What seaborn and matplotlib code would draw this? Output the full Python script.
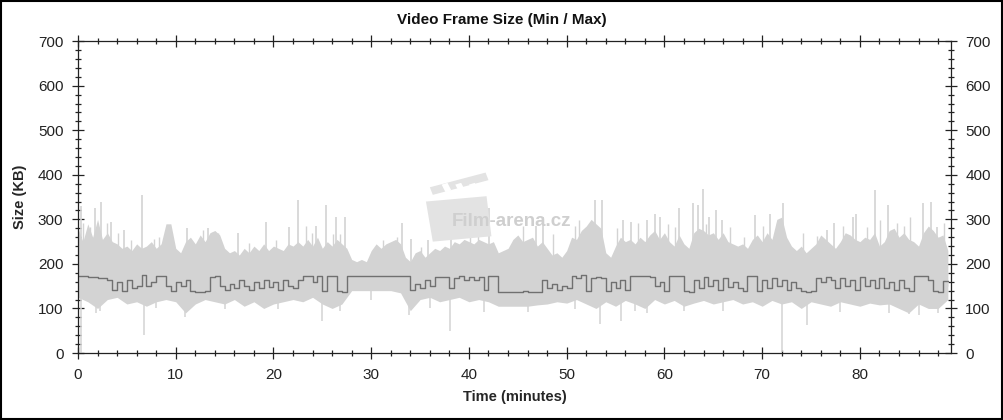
import numpy as np
import pandas as pd
import matplotlib
matplotlib.use("Agg")
import matplotlib.pyplot as plt
from matplotlib.patches import Polygon
from matplotlib.ticker import MultipleLocator
import seaborn as sns

# max envelope, sampled every 0.5 min (KB)
max_top = [
    280, 250, 290, 260, 300, 255, 270, 250, 245, 235,
    240, 230, 245, 235, 240, 250, 235, 245, 290, 290,
    235, 225, 250, 260, 245, 265, 250, 270, 275, 265,
    235, 225, 230, 220, 235, 225, 240, 230, 245, 230,
    240, 235, 230, 245, 240, 250, 240, 255, 240, 260,
    235, 250, 240, 255, 245, 235, 210, 205, 210, 205,
    230, 245, 235, 245, 250, 255, 245, 215, 205, 225,
    230, 215, 225, 235, 230, 240, 235, 250, 245, 255,
    250, 245, 255, 250, 245, 250, 225, 230, 235, 255,
    265, 250, 255, 260, 240, 250, 235, 220, 225, 215,
    230, 260, 255, 275, 285, 300, 290, 280, 225, 215,
    240, 260, 250, 255, 245, 260, 250, 265, 275, 255,
    270, 250, 240, 265, 245, 235, 270, 280, 275, 265,
    270, 255, 270, 250, 245, 240, 245, 235, 255, 265,
    250, 270, 255, 300, 305, 260, 240, 230, 240, 225,
    235, 245, 265, 255, 245, 235, 250, 270, 265, 255,
    250, 260, 255, 270, 240, 250, 275, 280, 260, 270,
    255, 250, 240, 270, 285, 275, 260, 265, 230,
]

# min line (dark), sampled every 0.5 min (KB)
min_line = [
    172, 172, 171, 170, 168, 168, 165, 142, 160, 140,
    165, 145, 150, 175, 150, 160, 172, 173, 150, 140,
    160, 150, 165, 140, 138, 137, 140, 170, 172, 150,
    142, 155, 145, 165, 150, 142, 160, 145, 165, 148,
    160, 142, 165, 150, 145, 165, 172, 172, 160, 172,
    140, 172, 172, 140, 138, 172, 172, 172, 172, 172,
    172, 172, 172, 172, 172, 172, 172, 172, 142, 155,
    145, 165, 150, 171, 171, 170, 145, 168, 172, 165,
    170, 165, 170, 142, 172, 172, 138, 138, 138, 138,
    138, 140, 138, 138, 138, 165, 145, 155, 142, 150,
    145, 172, 168, 175, 140, 168, 170, 168, 140, 160,
    145, 165, 142, 172, 172, 172, 172, 170, 150, 160,
    140, 172, 172, 172, 140, 138, 165, 145, 170, 150,
    165, 142, 168, 148, 160, 145, 140, 172, 172, 140,
    165, 145, 168, 150, 165, 142, 160, 145, 140, 138,
    140, 168, 160, 170, 165, 145, 168, 150, 165, 142,
    170, 150, 165, 145, 168, 145, 160, 142, 165, 145,
    140, 172, 172, 173, 165, 140, 138, 162, 162,
]

# lower edge of the light band, every 1 min (KB)
band_bottom = [
    125, 115, 100, 120, 125, 110, 115, 105, 115, 120,
    115, 90, 110, 120, 115, 110, 120, 105, 115, 100,
    110, 115, 120, 115, 125, 110, 100, 110, 140, 140,
    140, 140, 140, 135, 95, 120, 125, 115, 120, 125,
    115, 120, 115, 105, 105, 105, 105, 108, 110, 115,
    112, 120, 110, 100, 115, 105, 118, 110, 100, 120,
    110, 118, 105, 112, 118, 110, 115, 120, 110, 115,
    105, 118, 110, 115, 100, 115, 110, 105, 115, 110,
    105, 112, 108, 110, 100, 90, 110, 100, 100, 120,
]

# tall single-frame peaks
spike_up_t = [0.3, 1.7, 2.4, 3.4, 4.7, 6.5, 11.2, 13.3, 16.4, 19.2, 21.6, 22.5,
              24.4, 25.4, 26.4, 27.3, 33.1, 34.1, 35.8, 38.2, 42.1, 46.9, 47.6,
              52.9, 53.6, 55.8, 56.6, 58.2, 59.0, 59.5, 61.5, 62.9, 63.4, 63.9,
              64.6, 65.3, 65.9, 69.3, 70.8, 72.1, 76.6, 77.4, 79.3, 79.6, 81.5,
              82.9, 86.5, 87.3, 87.9]
spike_up_kb = [330, 325, 340, 295, 276, 354, 280, 280, 269, 295, 283, 343,
               284, 332, 306, 306, 291, 257, 254, 287, 325, 284, 306,
               343, 343, 298, 295, 298, 313, 306, 325, 336, 332, 369,
               306, 321, 298, 310, 313, 336, 276, 291, 306, 313, 366,
               332, 336, 339, 283]

# smaller peaks
spike_mid_t = [0.5, 1.2, 3.0, 4.1, 5.4, 7.8, 8.3, 12.8, 13.8, 14.3, 17.5, 20.3,
               23.3, 23.9, 26.1, 26.8, 31.2, 32.6, 35.1, 40.1, 40.9,
               45.5, 48.6, 50.8, 51.3, 55.1, 57.3, 60.4, 61.1, 64.3, 66.7,
               68.1, 70.1, 71.5, 74.2, 75.6, 78.3, 80.7, 82.1, 83.8, 84.5,
               85.1, 88.6]
spike_mid_kb = [291, 283, 291, 269, 254, 257, 261, 276, 272, 269, 246, 254,
                284, 269, 268, 268, 254, 261, 239, 276, 270,
                284, 268, 284, 298, 280, 291, 290, 282, 290, 282,
                261, 284, 291, 269, 262, 284, 282, 298, 291, 284,
                306, 291]

spike_dn_t = [0.3, 1.8, 2.2, 6.8, 8.0, 10.9, 15.0, 20.5, 25.0, 26.8, 30.0,
              33.9, 36.0, 38.1, 41.5, 46.0, 50.8, 53.4, 55.6, 57.0, 58.2,
              62.0, 66.0, 72.0, 74.6, 78.0, 83.0, 85.0, 86.0, 88.0]
spike_dn_kb = [0, 90, 95, 40, 100, 80, 98, 98, 72, 95, 118,
               85, 100, 50, 92, 92, 98, 65, 72, 95, 90,
               95, 95, 2, 62, 92, 90, 88, 85, 90]

LIGHT = "#d3d3d3"
DARK = "#707070"

t_half = np.arange(len(max_top)) * 0.5
t_min = np.arange(len(band_bottom)) * 1.0
df = pd.DataFrame({"time": t_half, "min": min_line, "max": max_top})

sns.set_theme(style="ticks")
plt.rcParams["font.family"] = ["Liberation Sans", "DejaVu Sans"]

fig = plt.figure(figsize=(10.04, 4.2), dpi=100)
ax = fig.add_axes([0.0777, 0.1595, 0.8693, 0.7425])

# light band: max envelope and lower edge
ax.fill_between(df["time"], 150, df["max"], color=LIGHT, lw=0, zorder=1)
ax.fill_between(t_min, band_bottom, 165, color=LIGHT, lw=0, zorder=1)
ax.vlines(spike_up_t, 200, spike_up_kb, color=LIGHT, lw=1.2, zorder=1)
ax.vlines(spike_mid_t, 200, spike_mid_kb, color=LIGHT, lw=1.0, zorder=1)
ax.vlines(spike_dn_t, spike_dn_kb, 150, color=LIGHT, lw=1.1, zorder=1)

# watermark (clapperboard + site name)
wm = "#e3e3e3"
ax.add_patch(Polygon([(35.6, 340), (41.8, 352), (42.3, 262), (36.3, 250)],
                     closed=True, color=wm, lw=0, zorder=3))
ax.add_patch(Polygon([(36.0, 372), (41.7, 405), (42.0, 388), (36.3, 355)],
                     closed=True, color=wm, lw=0, zorder=3))
for sx in [37.2, 38.6, 40.0]:
    ax.add_patch(Polygon([(sx, 378), (sx + 0.6, 382), (sx + 1.0, 365), (sx + 0.4, 361)],
                         closed=True, color="white", lw=0, zorder=3))
ax.text(44.4, 296, "Film-arena.cz", color="#cfcfcf", fontsize=13.5,
        fontweight="bold", ha="center", va="center", zorder=4)

sns.lineplot(data=df, x="time", y="min", ax=ax, color=DARK, lw=1.0,
             drawstyle="steps-post", estimator=None, zorder=2)

ax.set_xlim(0, 89.3)
ax.set_ylim(0, 700)
ax.xaxis.set_major_locator(MultipleLocator(10))
ax.xaxis.set_minor_locator(MultipleLocator(2))
ax.yaxis.set_major_locator(MultipleLocator(100))
ax.yaxis.set_minor_locator(MultipleLocator(20))
ax.tick_params(which="both", direction="inout", top=True, right=True,
               labelright=True, colors="#222222", labelsize=11, width=0.9)
ax.tick_params(which="major", length=9, pad=6)
ax.tick_params(which="minor", length=5)
for s in ax.spines.values():
    s.set_visible(True)
    s.set_color("#222222")
    s.set_linewidth(0.9)

ax.set_xlabel("Time (minutes)", fontsize=10.5, fontweight="bold", labelpad=6)
ax.set_ylabel("Size (KB)", fontsize=10.5, fontweight="bold", labelpad=8)
fig.text(0.5, 0.952, "Video Frame Size (Min / Max)", ha="center", va="center",
         fontsize=11, fontweight="bold", color="#111111")

fig.patches.append(plt.Rectangle((0.001, 0.002), 0.997, 0.995, fill=False,
                                 edgecolor="black", lw=1.5,
                                 transform=fig.transFigure))

fig.savefig("out.png", dpi=100)
